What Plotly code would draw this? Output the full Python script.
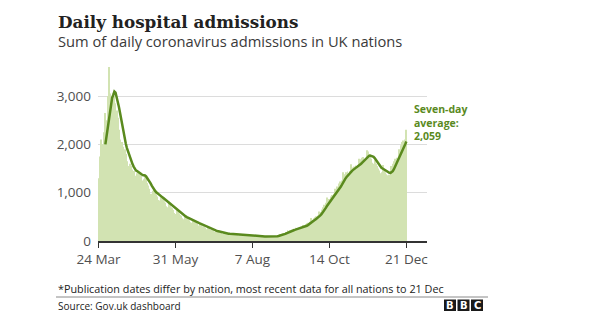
import pandas as pd
import plotly.graph_objects as go

# ---------------- data ----------------
start_date = "2020-03-24"
daily_admissions = [
    1300, 1750, 2100, 2000, 1950, 2250, 2650,
    2500, 3000, 3600, 3050, 3000, 2950, 3050,
    3000, 2850, 2700, 2550, 2300, 2100, 2050,
    2050, 1950, 1900, 1800, 1650, 1550, 1500,
    1600, 1550, 1480, 1450, 1350, 1300, 1400,
    1450, 1420, 1390, 1350, 1250, 1280, 1360,
    1300, 1200, 1150, 1080, 980, 950, 1040,
    1050, 1000, 960, 920, 850, 840, 925,
    900, 860, 820, 790, 720, 700, 810,
    740, 700, 680, 640, 580, 560, 650,
    600, 570, 540, 520, 470, 450, 525,
    490, 470, 450, 430, 390, 380, 435,
    410, 390, 370, 355, 320, 310, 365,
    330, 305, 290, 275, 245, 235, 280,
    250, 235, 220, 210, 190, 180, 213,
    195, 185, 172, 165, 150, 140, 169,
    160, 155, 145, 140, 130, 125, 146,
    140, 135, 130, 125, 115, 110, 134,
    125, 122, 118, 112, 104, 100, 124,
    118, 114, 110, 105, 98, 95, 116,
    108, 102, 98, 94, 86, 84, 107,
    98, 95, 92, 88, 84, 82, 105,
    100, 102, 105, 104, 98, 108, 139,
    140, 150, 160, 165, 165, 185, 225,
    210, 220, 230, 235, 230, 245, 275,
    260, 270, 275, 285, 270, 290, 331,
    320, 345, 365, 380, 375, 400, 475,
    440, 470, 490, 510, 490, 530, 610,
    600, 650, 700, 750, 730, 790, 900,
    830, 870, 920, 950, 920, 980, 1080,
    1070, 1130, 1190, 1230, 1180, 1250, 1420,
    1350, 1380, 1420, 1440, 1380, 1450, 1590,
    1500, 1520, 1540, 1560, 1500, 1540, 1700,
    1650, 1690, 1720, 1740, 1660, 1690, 1880,
    1850, 1800, 1760, 1700, 1620, 1600, 1675,
    1600, 1550, 1500, 1460, 1400, 1420, 1570,
    1480, 1420, 1380, 1360, 1310, 1370, 1550,
    1550, 1600, 1650, 1700, 1640, 1720, 1900,
    1900, 1980, 2050, 2080, 2000, 2100, 2303,
]
tick_dates = ["2020-03-24", "2020-05-31", "2020-08-07", "2020-10-14", "2020-12-21"]
tick_labels = ["24 Mar", "31 May", "7 Aug", "14 Oct", "21 Dec"]
y_ticks = [0, 1000, 2000, 3000]

dates = pd.date_range(start_date, periods=len(daily_admissions), freq="D")
avg7 = pd.Series(daily_admissions).rolling(7).mean()
last_avg = avg7.iloc[-1]

# ---------------- layout helpers ----------------
W, H = 600, 326
L, R, T, B = 98, 173, 60, 85
PW, PH = W - L - R, H - T - B


def px_x(px):
    return (px - L) / PW


def px_y(py):
    return (H - B - py) / PH


SANS = "Open Sans"
GREEN = "#5a8a1e"
BAR = "#d2e3b2"

fig = go.Figure()
fig.add_trace(go.Bar(x=dates, y=daily_admissions, marker=dict(color=BAR, line_width=0),
                     hoverinfo="skip"))
fig.add_trace(go.Scatter(x=dates, y=avg7, mode="lines",
                         line=dict(color=GREEN, width=2.5), hoverinfo="skip"))

fig.update_layout(
    width=W, height=H,
    margin=dict(l=L, r=R, t=T, b=B),
    paper_bgcolor="white", plot_bgcolor="white",
    showlegend=False, bargap=0.25,
    font=dict(family=SANS, color="#505050"),
    xaxis=dict(
        type="date",
        range=["2020-03-23 12:00", "2021-01-08 06:00"],
        tickvals=tick_dates, ticktext=tick_labels,
        ticks="outside", ticklen=5, tickwidth=1, tickcolor="#333333",
        showline=True, linecolor="#333333", linewidth=2,
        showgrid=False, zeroline=False,
        tickfont=dict(family=SANS, size=13.5, color="#505050"),
    ),
    yaxis=dict(
        range=[0, 3745],
        tickvals=y_ticks, tickformat=",",
        showgrid=True, gridcolor="#dcdcdc", gridwidth=1,
        zeroline=False, showline=False, ticks="",
        ticklabelstandoff=6,
        tickfont=dict(family=SANS, size=13.5, color="#505050"),
    ),
)

ann = [
    dict(text="Daily hospital admissions", x=px_x(56), y=px_y(22), xanchor="left", yanchor="middle",
         font=dict(family="DejaVu Serif", size=16.8, color="#222222", weight="bold")),
    dict(text="Sum of daily coronavirus admissions in UK nations", x=px_x(56), y=px_y(41),
         xanchor="left", yanchor="middle", font=dict(family=SANS, size=14.7, color="#3a3a3a")),
    dict(text=f"Seven-day<br>average:<br>{last_avg:,.0f}", x=px_x(412), y=px_y(122),
         xanchor="left", yanchor="middle", align="left",
         font=dict(family=SANS, size=10.5, color=GREEN, weight="bold")),
    dict(text="*Publication dates differ by nation, most recent data for all nations to 21 Dec",
         x=px_x(56), y=px_y(288), xanchor="left", yanchor="middle",
         font=dict(family=SANS, size=10.8, color="#222222")),
    dict(text="Source: Gov.uk dashboard", x=px_x(56), y=px_y(306), xanchor="left", yanchor="middle",
         font=dict(family=SANS, size=10, color="#222222")),
]
for a in ann:
    a.update(xref="paper", yref="paper", showarrow=False)
    fig.add_annotation(**a)

# separator line above source
fig.add_shape(type="line", xref="paper", yref="paper",
              x0=px_x(56), x1=px_x(488), y0=px_y(297), y1=px_y(297),
              line=dict(color="#8a8a8a", width=1))

# BBC logo blocks
for i, letter in enumerate("BBC"):
    x0 = 444 + i * 13.5
    fig.add_shape(type="rect", xref="paper", yref="paper",
                  x0=px_x(x0), x1=px_x(x0 + 12), y0=px_y(311), y1=px_y(299.5),
                  fillcolor="#1a1a1a", line_width=0)
    fig.add_annotation(text=letter, xref="paper", yref="paper", showarrow=False,
                       x=px_x(x0 + 6), y=px_y(305.5), xanchor="center", yanchor="middle",
                       font=dict(family="DejaVu Sans", size=10, color="white", weight="bold"))

fig.write_html("out.html")
